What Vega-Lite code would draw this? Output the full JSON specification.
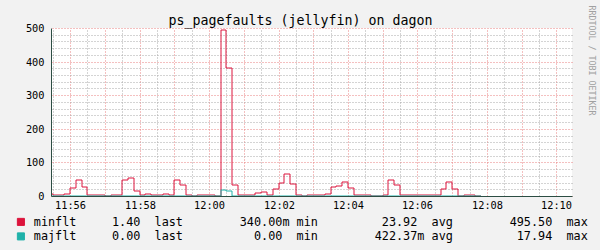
{
  "$schema": "https://vega.github.io/schema/vega-lite/v6.json",
  "width": 521,
  "height": 168,
  "autosize": {"type": "none"},
  "padding": {"left": 51, "top": 28, "right": 28, "bottom": 54},
  "background": "#F2F2F2",
  "config": {
    "view": {"fill": "#FFFFFF", "stroke": null},
    "font": "DejaVu Sans Mono",
    "axis": {"labelFont": "DejaVu Sans Mono", "titleFont": "DejaVu Sans Mono"}
  },
  "data": {
    "values": [
      {"t": "2021-01-01T11:55:20", "minflt": 6, "majflt": 0},
      {"t": "2021-01-01T11:55:30", "minflt": 3, "majflt": 0},
      {"t": "2021-01-01T11:55:40", "minflt": 3, "majflt": 0},
      {"t": "2021-01-01T11:55:50", "minflt": 5, "majflt": 0},
      {"t": "2021-01-01T11:56:00", "minflt": 23, "majflt": 0},
      {"t": "2021-01-01T11:56:10", "minflt": 47, "majflt": 0},
      {"t": "2021-01-01T11:56:20", "minflt": 26, "majflt": 0},
      {"t": "2021-01-01T11:56:30", "minflt": 3, "majflt": 0},
      {"t": "2021-01-01T11:56:40", "minflt": 3, "majflt": 0},
      {"t": "2021-01-01T11:56:50", "minflt": 3, "majflt": 0},
      {"t": "2021-01-01T11:57:00", "minflt": 0.34, "majflt": 0},
      {"t": "2021-01-01T11:57:10", "minflt": 3, "majflt": 0},
      {"t": "2021-01-01T11:57:20", "minflt": 3, "majflt": 0},
      {"t": "2021-01-01T11:57:30", "minflt": 47, "majflt": 0},
      {"t": "2021-01-01T11:57:40", "minflt": 53, "majflt": 0},
      {"t": "2021-01-01T11:57:50", "minflt": 15, "majflt": 0},
      {"t": "2021-01-01T11:58:00", "minflt": 3, "majflt": 0},
      {"t": "2021-01-01T11:58:10", "minflt": 5, "majflt": 0},
      {"t": "2021-01-01T11:58:20", "minflt": 3, "majflt": 0},
      {"t": "2021-01-01T11:58:30", "minflt": 3, "majflt": 0},
      {"t": "2021-01-01T11:58:40", "minflt": 5, "majflt": 0},
      {"t": "2021-01-01T11:58:50", "minflt": 3, "majflt": 0},
      {"t": "2021-01-01T11:59:00", "minflt": 47, "majflt": 0},
      {"t": "2021-01-01T11:59:10", "minflt": 32, "majflt": 0},
      {"t": "2021-01-01T11:59:20", "minflt": 3, "majflt": 0},
      {"t": "2021-01-01T11:59:30", "minflt": 0.34, "majflt": 0},
      {"t": "2021-01-01T11:59:40", "minflt": 3, "majflt": 0},
      {"t": "2021-01-01T11:59:50", "minflt": 3, "majflt": 0},
      {"t": "2021-01-01T12:00:00", "minflt": 3, "majflt": 0},
      {"t": "2021-01-01T12:00:10", "minflt": 0.34, "majflt": 0},
      {"t": "2021-01-01T12:00:20", "minflt": 495.5, "majflt": 17.94},
      {"t": "2021-01-01T12:00:30", "minflt": 381, "majflt": 13.7},
      {"t": "2021-01-01T12:00:40", "minflt": 32, "majflt": 0},
      {"t": "2021-01-01T12:00:50", "minflt": 3, "majflt": 0},
      {"t": "2021-01-01T12:01:00", "minflt": 3, "majflt": 0},
      {"t": "2021-01-01T12:01:10", "minflt": 3, "majflt": 0},
      {"t": "2021-01-01T12:01:20", "minflt": 8, "majflt": 0},
      {"t": "2021-01-01T12:01:30", "minflt": 12, "majflt": 0},
      {"t": "2021-01-01T12:01:40", "minflt": 3, "majflt": 0},
      {"t": "2021-01-01T12:01:50", "minflt": 20, "majflt": 0},
      {"t": "2021-01-01T12:02:00", "minflt": 39, "majflt": 0},
      {"t": "2021-01-01T12:02:10", "minflt": 66, "majflt": 0},
      {"t": "2021-01-01T12:02:20", "minflt": 36, "majflt": 0},
      {"t": "2021-01-01T12:02:30", "minflt": 3, "majflt": 0},
      {"t": "2021-01-01T12:02:40", "minflt": 0.34, "majflt": 0},
      {"t": "2021-01-01T12:02:50", "minflt": 3, "majflt": 0},
      {"t": "2021-01-01T12:03:00", "minflt": 3, "majflt": 0},
      {"t": "2021-01-01T12:03:10", "minflt": 3, "majflt": 0},
      {"t": "2021-01-01T12:03:20", "minflt": 6, "majflt": 0},
      {"t": "2021-01-01T12:03:30", "minflt": 27, "majflt": 0},
      {"t": "2021-01-01T12:03:40", "minflt": 30, "majflt": 0},
      {"t": "2021-01-01T12:03:50", "minflt": 41, "majflt": 0},
      {"t": "2021-01-01T12:04:00", "minflt": 23, "majflt": 0},
      {"t": "2021-01-01T12:04:10", "minflt": 3, "majflt": 0},
      {"t": "2021-01-01T12:04:20", "minflt": 3, "majflt": 0},
      {"t": "2021-01-01T12:04:30", "minflt": 3, "majflt": 0},
      {"t": "2021-01-01T12:04:40", "minflt": 0.34, "majflt": 0},
      {"t": "2021-01-01T12:04:50", "minflt": 0.34, "majflt": 0},
      {"t": "2021-01-01T12:05:00", "minflt": 3, "majflt": 0},
      {"t": "2021-01-01T12:05:10", "minflt": 47, "majflt": 0},
      {"t": "2021-01-01T12:05:20", "minflt": 32, "majflt": 0},
      {"t": "2021-01-01T12:05:30", "minflt": 3, "majflt": 0},
      {"t": "2021-01-01T12:05:40", "minflt": 3, "majflt": 0},
      {"t": "2021-01-01T12:05:50", "minflt": 3, "majflt": 0},
      {"t": "2021-01-01T12:06:00", "minflt": 3, "majflt": 0},
      {"t": "2021-01-01T12:06:10", "minflt": 3, "majflt": 0},
      {"t": "2021-01-01T12:06:20", "minflt": 3, "majflt": 0},
      {"t": "2021-01-01T12:06:30", "minflt": 3, "majflt": 0},
      {"t": "2021-01-01T12:06:40", "minflt": 20, "majflt": 0},
      {"t": "2021-01-01T12:06:50", "minflt": 41, "majflt": 0},
      {"t": "2021-01-01T12:07:00", "minflt": 20, "majflt": 0},
      {"t": "2021-01-01T12:07:10", "minflt": 0.34, "majflt": 0},
      {"t": "2021-01-01T12:07:20", "minflt": 3, "majflt": 0},
      {"t": "2021-01-01T12:07:30", "minflt": 3, "majflt": 0},
      {"t": "2021-01-01T12:07:40", "minflt": 1.4, "majflt": 0},
      {"t": "2021-01-01T12:07:50", "minflt": 1.4, "majflt": 0}
    ]
  },
  "layer": [
    {
      "mark": {"type": "line", "interpolate": "step-after", "clip": true, "strokeWidth": 1},
      "encoding": {
        "x": {
          "field": "t", "type": "temporal",
          "scale": {"round": true, "domain": [
            {"year": 2021, "month": 1, "date": 1, "hours": 11, "minutes": 55, "seconds": 27},
            {"year": 2021, "month": 1, "date": 1, "hours": 12, "minutes": 10, "seconds": 27}
          ]},
          "axis": {
            "orient": "top",
            "labels": false, "ticks": false, "domain": false,
            "grid": true,
            "gridDash": [1, 2],
            "gridWidth": 1,
            "gridColor": {"condition": {"test": "seconds(datum.value) == 0", "value": "#E88080"}, "value": "#A8A8A8"},
            "zindex": 0,
            "values": [
              {"year": 2021, "month": 1, "date": 1, "hours": 11, "minutes": 55, "seconds": 30},
              {"year": 2021, "month": 1, "date": 1, "hours": 11, "minutes": 56, "seconds": 0},
              {"year": 2021, "month": 1, "date": 1, "hours": 11, "minutes": 56, "seconds": 30},
              {"year": 2021, "month": 1, "date": 1, "hours": 11, "minutes": 57, "seconds": 0},
              {"year": 2021, "month": 1, "date": 1, "hours": 11, "minutes": 57, "seconds": 30},
              {"year": 2021, "month": 1, "date": 1, "hours": 11, "minutes": 58, "seconds": 0},
              {"year": 2021, "month": 1, "date": 1, "hours": 11, "minutes": 58, "seconds": 30},
              {"year": 2021, "month": 1, "date": 1, "hours": 11, "minutes": 59, "seconds": 0},
              {"year": 2021, "month": 1, "date": 1, "hours": 11, "minutes": 59, "seconds": 30},
              {"year": 2021, "month": 1, "date": 1, "hours": 12, "minutes": 0, "seconds": 0},
              {"year": 2021, "month": 1, "date": 1, "hours": 12, "minutes": 0, "seconds": 30},
              {"year": 2021, "month": 1, "date": 1, "hours": 12, "minutes": 1, "seconds": 0},
              {"year": 2021, "month": 1, "date": 1, "hours": 12, "minutes": 1, "seconds": 30},
              {"year": 2021, "month": 1, "date": 1, "hours": 12, "minutes": 2, "seconds": 0},
              {"year": 2021, "month": 1, "date": 1, "hours": 12, "minutes": 2, "seconds": 30},
              {"year": 2021, "month": 1, "date": 1, "hours": 12, "minutes": 3, "seconds": 0},
              {"year": 2021, "month": 1, "date": 1, "hours": 12, "minutes": 3, "seconds": 30},
              {"year": 2021, "month": 1, "date": 1, "hours": 12, "minutes": 4, "seconds": 0},
              {"year": 2021, "month": 1, "date": 1, "hours": 12, "minutes": 4, "seconds": 30},
              {"year": 2021, "month": 1, "date": 1, "hours": 12, "minutes": 5, "seconds": 0},
              {"year": 2021, "month": 1, "date": 1, "hours": 12, "minutes": 5, "seconds": 30},
              {"year": 2021, "month": 1, "date": 1, "hours": 12, "minutes": 6, "seconds": 0},
              {"year": 2021, "month": 1, "date": 1, "hours": 12, "minutes": 6, "seconds": 30},
              {"year": 2021, "month": 1, "date": 1, "hours": 12, "minutes": 7, "seconds": 0},
              {"year": 2021, "month": 1, "date": 1, "hours": 12, "minutes": 7, "seconds": 30},
              {"year": 2021, "month": 1, "date": 1, "hours": 12, "minutes": 8, "seconds": 0},
              {"year": 2021, "month": 1, "date": 1, "hours": 12, "minutes": 8, "seconds": 30},
              {"year": 2021, "month": 1, "date": 1, "hours": 12, "minutes": 9, "seconds": 0},
              {"year": 2021, "month": 1, "date": 1, "hours": 12, "minutes": 9, "seconds": 30},
              {"year": 2021, "month": 1, "date": 1, "hours": 12, "minutes": 10, "seconds": 0}
            ],
            "title": "ps_pagefaults (jellyfin) on dagon",
            "titleFont": "DejaVu Sans Mono",
            "titleFontSize": 13.3,
            "titleFontWeight": "normal",
            "titleColor": "#000000",
            "titleX": 249,
            "titleY": -4,
            "titleAlign": "center",
            "titleBaseline": "alphabetic",
            "titleAngle": 0
          }
        },
        "y": {
          "field": "minflt", "type": "quantitative",
          "scale": {"domain": [0, 500], "nice": false, "round": true},
          "axis": {
            "orient": "right",
            "labels": false, "ticks": false, "domain": false,
            "grid": true,
            "gridDash": [1, 2],
            "gridWidth": 1,
            "gridColor": {"condition": {"test": "datum.value % 100 == 0", "value": "#E88080"}, "value": "#A8A8A8"},
            "zindex": 0,
            "values": [0, 20, 40, 60, 80, 100, 120, 140, 160, 180, 200, 220, 240, 260, 280, 300, 320, 340, 360, 380, 400, 420, 440, 460, 480, 500],
            "title": "RRDTOOL / TOBI OETIKER",
            "titleFont": "DejaVu Sans Mono",
            "titleFontSize": 8.3,
            "titleFontWeight": "normal",
            "titleColor": "#A0A0A0",
            "titleAngle": 90,
            "titleAlign": "left",
            "titleBaseline": "middle",
            "titleX": 18,
            "titleY": -23
          }
        },
        "color": {
          "datum": "minflt", "type": "nominal",
          "scale": {"domain": ["minflt", "majflt"], "range": ["#DC143C", "#20B2AA"]},
          "legend": {
            "orient": "none",
            "legendX": -36,
            "legendY": 188,
            "title": null,
            "direction": "vertical",
            "padding": 0,
            "rowPadding": 1.5,
            "symbolType": "square",
            "symbolSize": 50,
            "symbolStrokeWidth": 1,
            "labelFont": "DejaVu Sans Mono",
            "labelFontSize": 11.8,
            "labelColor": "#000000",
            "labelOffset": 7,
            "labelLimit": 2000,
            "labelExpr": "datum.value == 'minflt' ? 'minflt\u00a0\u00a0\u00a0\u00a0\u00a01.40\u00a0\u00a0last\u00a0\u00a0\u00a0\u00a0\u00a0\u00a0\u00a0\u00a0340.00m\u00a0min\u00a0\u00a0\u00a0\u00a0\u00a0\u00a0\u00a0\u00a0\u00a023.92\u00a0\u00a0avg\u00a0\u00a0\u00a0\u00a0\u00a0\u00a0\u00a0\u00a0495.50\u00a0\u00a0max' : 'majflt\u00a0\u00a0\u00a0\u00a0\u00a00.00\u00a0\u00a0last\u00a0\u00a0\u00a0\u00a0\u00a0\u00a0\u00a0\u00a0\u00a0\u00a00.00\u00a0\u00a0min\u00a0\u00a0\u00a0\u00a0\u00a0\u00a0\u00a0\u00a0422.37m\u00a0avg\u00a0\u00a0\u00a0\u00a0\u00a0\u00a0\u00a0\u00a0\u00a017.94\u00a0\u00a0max'",
            "encode": {
              "symbols": {
                "update": {
                  "fill": {"scale": "color", "field": "value"},
                  "stroke": {"value": "#000000"},
                  "strokeWidth": {"value": 1},
                  "opacity": {"value": 1}
                }
              }
            }
          }
        }
      }
    },
    {
      "mark": {"type": "line", "interpolate": "step-after", "clip": true, "strokeWidth": 1},
      "encoding": {
        "x": {
          "field": "t", "type": "temporal",
          "axis": {
            "orient": "bottom",
            "grid": false,
            "ticks": false,
            "domain": true,
            "domainColor": "#2C4D43",
            "domainWidth": 1,
            "zindex": 1,
            "title": null,
            "format": "%H:%M",
            "labelFontSize": 10.3,
            "labelColor": "#000000",
            "labelPadding": 4,
            "labelFlush": false,
            "labelOverlap": false,
            "values": [
              {"year": 2021, "month": 1, "date": 1, "hours": 11, "minutes": 56},
              {"year": 2021, "month": 1, "date": 1, "hours": 11, "minutes": 58},
              {"year": 2021, "month": 1, "date": 1, "hours": 12, "minutes": 0},
              {"year": 2021, "month": 1, "date": 1, "hours": 12, "minutes": 2},
              {"year": 2021, "month": 1, "date": 1, "hours": 12, "minutes": 4},
              {"year": 2021, "month": 1, "date": 1, "hours": 12, "minutes": 6},
              {"year": 2021, "month": 1, "date": 1, "hours": 12, "minutes": 8},
              {"year": 2021, "month": 1, "date": 1, "hours": 12, "minutes": 10}
            ]
          }
        },
        "y": {
          "field": "majflt", "type": "quantitative",
          "axis": {
            "orient": "left",
            "grid": false,
            "ticks": false,
            "domain": true,
            "domainColor": "#2C4D43",
            "domainWidth": 1,
            "zindex": 1,
            "title": null,
            "labelFontSize": 10.3,
            "labelColor": "#000000",
            "labelPadding": 7,
            "labelFlush": false,
            "labelOverlap": false,
            "values": [0, 100, 200, 300, 400, 500]
          }
        },
        "color": {"datum": "majflt", "type": "nominal"}
      }
    }
  ],
  "resolve": {"axis": {"x": "independent", "y": "independent"}}
}
